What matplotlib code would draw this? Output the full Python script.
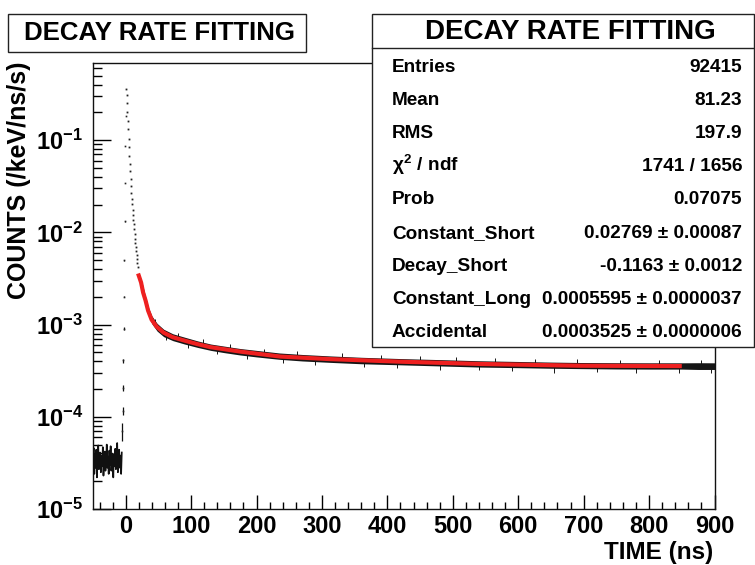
import math
import matplotlib
matplotlib.use('Agg')
import matplotlib.pyplot as plt
import matplotlib.ticker as mticker
from matplotlib.patches import Rectangle
from matplotlib.lines import Line2D

plt.rcParams['font.family'] = ['Liberation Sans', 'DejaVu Sans']
plt.rcParams['font.weight'] = 'bold'
plt.rcParams['mathtext.fontset'] = 'custom'
plt.rcParams['mathtext.rm'] = 'Liberation Sans:bold'
plt.rcParams['mathtext.bf'] = 'Liberation Sans:bold'
plt.rcParams['mathtext.it'] = 'Liberation Sans'
plt.rcParams['mathtext.sf'] = 'Liberation Sans:bold'

# ---------------- data ----------------
# pre-trigger background, 1 ns steps from -50 to -6 ns
pre_t = list(range(-50, -5))
pre_y = [3.2e-5, 4.6e-5, 2.4e-5, 3.9e-5, 2.8e-5, 4.4e-5, 2.2e-5, 3.6e-5, 4.9e-5, 2.7e-5,
         3.3e-5, 4.1e-5, 2.5e-5, 3.8e-5, 2.9e-5, 4.7e-5, 2.3e-5, 3.5e-5, 4.2e-5, 2.6e-5,
         3.1e-5, 5.0e-5, 2.8e-5, 3.7e-5, 2.4e-5, 4.3e-5, 3.0e-5, 4.8e-5, 2.6e-5, 3.4e-5,
         4.0e-5, 2.2e-5, 3.9e-5, 2.9e-5, 4.5e-5, 2.7e-5, 3.6e-5, 5.2e-5, 2.5e-5, 3.3e-5,
         4.4e-5, 2.8e-5, 3.8e-5, 2.4e-5, 4.1e-5]

# rising edge
rise_t = [-5.2, -4.7, -4.2, -3.7, -3.2, -2.7, -2.2, -1.7, -1.2, -0.7, -0.2]
rise_y = [7.1e-5, 1.16e-4, 2.07e-4, 4.1e-4, 9.06e-4, 2.01e-3, 4.97e-3, 0.0132, 0.0341, 0.0867, 0.182]
rise_lo = [5.5e-5, 1.05e-4, 1.92e-4, 3.86e-4, 8.8e-4, 1.98e-3, 4.9e-3, 0.0131, 0.0339, 0.0865, 0.181]
rise_hi = [8.6e-5, 1.29e-4, 2.23e-4, 4.27e-4, 9.3e-4, 2.04e-3, 5.05e-3, 0.0133, 0.0343, 0.0869, 0.183]

# fast decay points
decay_t = [0.9, 1.5, 2.1, 2.7, 3.3, 3.9, 4.5, 5.1, 5.7, 6.3, 6.9, 7.5, 8.1, 8.7, 9.3,
           9.9, 10.5, 11.1, 11.7, 12.3, 12.9, 13.5, 14.1, 14.7, 15.3, 15.9, 16.5, 17.1, 17.7, 18.3]
decay_y = [0.361, 0.306, 0.251, 0.201, 0.161, 0.131, 0.104, 0.0845, 0.0670, 0.0548,
           0.0460, 0.0377, 0.0316, 0.0270, 0.0232, 0.0201, 0.0175, 0.0153, 0.0135, 0.0122,
           0.0108, 0.00959, 0.00855, 0.00773, 0.00692, 0.00621, 0.00562, 0.00509, 0.00469, 0.00420]

# slow tail: envelope of the data band
band_t = [20, 25, 30, 35, 40, 48, 58, 72, 90, 110, 130, 150, 175, 200, 235, 270, 313, 360,
          420, 480, 542, 600, 650, 695, 750, 800, 850, 875, 900]
band_hi = [3.7e-3, 2.85e-3, 2.05e-3, 1.52e-3, 1.24e-3, 1.03e-3, 8.9e-4, 7.95e-4, 7.3e-4,
           6.65e-4, 6.15e-4, 5.85e-4, 5.5e-4, 5.25e-4, 4.92e-4, 4.74e-4, 4.57e-4, 4.42e-4,
           4.28e-4, 4.17e-4, 4.05e-4, 3.98e-4, 3.92e-4, 3.88e-4, 3.86e-4, 3.85e-4, 3.85e-4, 3.86e-4, 3.85e-4]
band_lo = [3.1e-3, 2.35e-3, 1.72e-3, 1.25e-3, 1.02e-3, 8.5e-4, 7.4e-4, 6.7e-4, 6.15e-4,
           5.65e-4, 5.25e-4, 4.97e-4, 4.68e-4, 4.46e-4, 4.2e-4, 4.03e-4, 3.89e-4, 3.76e-4,
           3.66e-4, 3.56e-4, 3.46e-4, 3.41e-4, 3.36e-4, 3.33e-4, 3.3e-4, 3.29e-4, 3.29e-4, 3.26e-4, 3.26e-4]

# outlying bins in the tail
spike_t = [45, 62, 80, 95, 118, 140, 160, 185, 212, 240, 262, 290, 330, 365, 390, 415,
           450, 480, 505, 540, 565, 590, 625, 654, 690, 720, 755, 780, 815, 845, 880, 895]
spike_lo = [9.9e-4, 6.8e-4, 7.0e-4, 5.6e-4, 5.9e-4, 4.75e-4, 5.3e-4, 4.2e-4, 4.7e-4, 3.85e-4,
            4.4e-4, 3.65e-4, 4.17e-4, 3.45e-4, 4.02e-4, 3.35e-4, 3.9e-4, 3.25e-4, 3.8e-4, 3.18e-4,
            3.71e-4, 3.12e-4, 3.65e-4, 2.95e-4, 3.59e-4, 3.05e-4, 3.56e-4, 3.02e-4, 3.55e-4, 3.0e-4,
            3.54e-4, 3.0e-4]
spike_hi = [1.14e-3, 7.9e-4, 8.1e-4, 6.55e-4, 6.9e-4, 5.55e-4, 6.15e-4, 4.95e-4, 5.5e-4, 4.5e-4,
            5.15e-4, 4.3e-4, 4.9e-4, 4.07e-4, 4.7e-4, 3.97e-4, 4.55e-4, 3.85e-4, 4.45e-4, 3.75e-4,
            4.3e-4, 3.69e-4, 4.25e-4, 3.62e-4, 4.2e-4, 3.57e-4, 4.15e-4, 3.55e-4, 4.12e-4, 3.55e-4,
            4.15e-4, 3.54e-4]

# fitted function
fit_t = [18.9, 23.5, 26.6, 30.4, 34.2, 39.6, 47.2, 57.9, 71.6, 89.9, 109.8, 129.7, 175.5,
         236.6, 313, 420, 542, 695, 850]
fit_y = [3.58e-3, 2.86e-3, 2.23e-3, 1.82e-3, 1.42e-3, 1.13e-3, 9.5e-4, 8.18e-4, 7.31e-4,
         6.7e-4, 6.14e-4, 5.69e-4, 5.09e-4, 4.5e-4, 4.22e-4, 3.96e-4, 3.74e-4, 3.58e-4, 3.55e-4]

title = 'DECAY RATE FITTING'
stat_labels = ['Entries', 'Mean', 'RMS', r'$\chi^{2}$ / ndf', 'Prob', 'Constant_Short',
               'Decay_Short', 'Constant_Long', 'Accidental']
stat_values = ['92415', '81.23', '197.9', '1741 / 1656', '0.07075',
               '0.02769 \u00b1 0.00087', '-0.1163 \u00b1 0.0012',
               '0.0005595 \u00b1 0.0000037', '0.0003525 \u00b1 0.0000006']
x_label = 'TIME (ns)'
y_label = 'COUNTS (/keV/ns/s)'

# ---------------- layout ----------------
W, H = 755, 565
def fx(px):
    return px / W
def fy(py):
    return 1 - py / H

fig = plt.figure(figsize=(W / 100, H / 100), dpi=100)
ax = fig.add_axes([fx(93), fy(509), fx(714.5) - fx(93), fy(63) - fy(509)])
ax.set_yscale('log')
ax.set_xlim(-50, 900)
ax.set_ylim(1e-5, 0.687)

# pre-trigger noise
ax.plot(pre_t, pre_y, color='#111111', lw=1.2, zorder=2)
# rising edge with error bars
ax.vlines(rise_t, rise_lo, rise_hi, color='#111111', lw=0.9, zorder=2)
ax.plot(rise_t, rise_y, ls='none', marker='s', ms=1.2, color='#222222', mew=0, zorder=2)
# fast decay points
ax.plot(decay_t, decay_y, ls='none', marker='s', ms=1.3, color='#222222', mew=0, zorder=2)
# tail band
ax.fill_between(band_t, band_lo, band_hi, color='#151515', lw=0, zorder=2)
ax.vlines(spike_t, spike_lo, spike_hi, color='#151515', lw=0.7, zorder=2)
# fit
ax.plot(fit_t, fit_y, color='#ee2020', lw=3.0, solid_capstyle='butt', zorder=3)

# axes styling
for s in ax.spines.values():
    s.set_linewidth(1.0)
    s.set_color('#111111')
ax.xaxis.set_major_locator(mticker.MultipleLocator(100))
ax.xaxis.set_minor_locator(mticker.MultipleLocator(20))
ax.yaxis.set_major_locator(mticker.LogLocator(base=10, numticks=20))
ax.yaxis.set_minor_locator(mticker.LogLocator(base=10, subs=[2, 3, 4, 5, 6, 7, 8, 9], numticks=20))
ax.yaxis.set_minor_formatter(mticker.NullFormatter())
ax.yaxis.set_major_formatter(mticker.FuncFormatter(
    lambda v, p: r'$10^{%d}$' % round(math.log10(v))))
ax.tick_params(axis='x', which='major', direction='in', length=10, width=1.0,
               labelsize=17, pad=4, top=False)
ax.tick_params(axis='x', which='minor', direction='in', length=5, width=1.0, top=False)
ax.tick_params(axis='y', which='major', direction='in', length=13, width=1.0,
               labelsize=17, pad=7, right=False)
ax.tick_params(axis='y', which='minor', direction='in', length=6.5, width=1.0, right=False)
for lab in ax.get_xticklabels():
    lab.set_fontweight('bold')

# axis titles
fig.text(fx(19), fy(180), y_label, rotation=90, ha='center', va='center',
         fontsize=18, fontweight='bold')
fig.text(fx(713), fy(552), x_label, ha='right', va='center', fontsize=17.5, fontweight='bold')

# title box
fig.add_artist(Rectangle((fx(8), fy(52)), fx(306) - fx(8), fy(14) - fy(52),
                         transform=fig.transFigure, facecolor='white', edgecolor='#222222',
                         lw=1.0, zorder=5))
fig.text(fx(160), fy(33), title, ha='center', va='center', fontsize=18.6,
         fontweight='bold', zorder=6)

# stats box
fig.add_artist(Rectangle((fx(372), fy(347)), fx(754) - fx(372), fy(14) - fy(347),
                         transform=fig.transFigure, facecolor='white', edgecolor='#222222',
                         lw=1.0, zorder=5))
fig.add_artist(Line2D([fx(372), fx(754)], [fy(47.7), fy(47.7)], transform=fig.transFigure,
                      color='#222222', lw=1.0, zorder=6))
fig.text(fx(570), fy(32), title, ha='center', va='center', fontsize=20,
         fontweight='bold', zorder=6)
for i, (lab, val) in enumerate(zip(stat_labels, stat_values)):
    yb = 71.7 + 33.2 * i
    fig.text(fx(392), fy(yb), lab, ha='left', va='baseline', fontsize=13.7,
             fontweight='bold', zorder=6)
    fig.text(fx(742), fy(yb), val, ha='right', va='baseline', fontsize=13.7,
             fontweight='bold', zorder=6)

fig.savefig('out.png', dpi=100)
